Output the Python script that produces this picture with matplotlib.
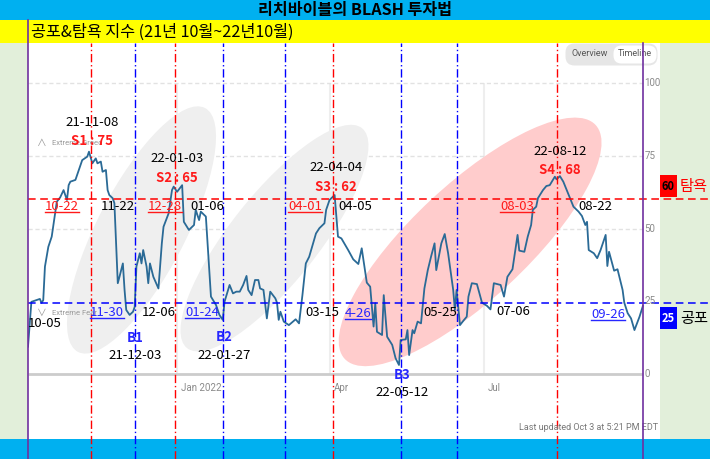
import matplotlib
matplotlib.use('Agg')
import matplotlib.pyplot as plt
import matplotlib.dates as mdates
import matplotlib.patches as mpatches
import matplotlib.transforms as mtransforms
from matplotlib.lines import Line2D
import pandas as pd

plt.rcParams['font.family'] = ['Noto Sans CJK KR', 'DejaVu Sans']
SMALL = ['Liberation Sans Narrow', 'Roboto', 'DejaVu Sans']

START = pd.Timestamp('2021-10-05')

# CNN fear & greed index (x = days since 2021-10-05)
day = [0, 2, 5, 7, 8, 9, 10, 12, 14, 16, 17, 19, 21, 23, 24, 25, 28, 30, 32, 35,
       36, 38, 40, 41, 43, 44, 46, 47, 48, 50, 51, 53, 54, 56, 57, 58, 60, 62, 63, 64,
       66, 67, 68, 70, 71, 72, 74, 77, 79, 80, 83, 85, 86, 88, 91, 92, 95, 98, 99, 101,
       102, 105, 106, 108, 111, 113, 115, 116, 119, 121, 123, 125, 127, 129, 130, 132,
       134, 136, 137, 139, 141, 143, 146, 147, 148, 149, 151, 154, 158, 160, 162, 164,
       166, 168, 170, 172, 175, 176, 178, 181, 183, 185, 189, 192, 195, 197, 200, 202,
       204, 205, 206, 209, 210, 212, 215, 217, 219, 220, 223, 224, 225, 227, 228, 230,
       232, 234, 236, 238, 240, 241, 244, 246, 248, 251, 252, 253, 255, 257, 259, 260,
       262, 265, 268, 271, 273, 275, 279, 281, 283, 286, 289, 290, 293, 295, 297, 298,
       300, 301, 304, 306, 308, 311, 312, 314, 316, 318, 320, 322, 325, 327, 329, 330,
       331, 334, 336, 338, 341, 342, 343, 346, 348, 351, 352, 354, 356, 358, 361, 363]
fg = [9.4, 24.8, 25.4, 25.8, 24.4, 25.4, 36.9, 43.7, 47.2, 55.3,
      59.2, 60.7, 63.2, 59.8, 64.9, 66.1, 66.7, 70.1, 73.5, 74.7,
      76.4, 72.4, 74.1, 72.4, 73.0, 69.5, 70.1, 63.2, 61.5, 60.4,
      58.7, 31.2, 33.4, 38.0, 28.9, 22.0, 20.3, 21.4, 23.1, 36.9,
      41.5, 38.0, 42.6, 36.9, 31.2, 38.0, 33.4, 29.4, 44.9, 50.6,
      55.2, 63.2, 64.4, 62.6, 64.9, 52.3, 49.5, 51.2, 56.4, 52.9,
      55.8, 54.1, 44.9, 26.6, 23.7, 20.3, 18.6, 24.8, 30.6, 27.7,
      28.3, 28.3, 30.6, 33.7, 28.9, 27.1, 32.3, 32.3, 29.4, 28.9,
      19.1, 28.3, 26.0, 24.5, 18.6, 21.4, 18.0, 16.8, 18.8, 17.4,
      27.1, 38.0, 40.3, 44.3, 48.3, 50.1, 51.8, 56.4, 59.8, 61.5,
      47.2, 46.6, 42.6, 39.4, 37.8, 43.2, 31.4, 30.0, 16.3, 24.3,
      14.5, 13.4, 27.1, 12.8, 10.0, 5.4, 3.1, 11.7, 11.9, 15.1,
      6.5, 15.1, 14.0, 18.0, 17.4, 29.4, 35.7, 40.5, 44.9, 35.7,
      44.9, 48.1, 41.5, 28.9, 22.0, 28.9, 16.8, 18.3, 19.7, 26.6,
      31.2, 30.9, 24.5, 23.4, 22.2, 31.2, 30.6, 26.6, 33.4, 36.0,
      47.8, 42.4, 42.0, 47.2, 51.2, 56.4, 57.5, 60.4, 63.2, 64.6,
      64.9, 67.8, 66.9, 68.0, 66.1, 63.2, 60.4, 57.5, 55.8, 54.3,
      51.2, 52.3, 42.6, 41.5, 39.8, 42.6, 47.8, 37.1, 42.0, 35.5,
      36.0, 28.9, 24.5, 20.9, 19.1, 15.1, 19.7, 23.4]

greed_line = 60
fear_line = 24.4
sell_days = [37, 87, 180, 312]
buy_days = [63, 115, 152, 220, 253]

top_dates = ['21-11-08', '22-01-03', '22-04-04', '22-08-12']
top_tags = ['S1 : 75', 'S2 : 65', 'S3 : 62', 'S4 : 68']
top_x = [38, 88, 182, 314]
top_y = [86.6, 73.9, 70.8, 76.6]

bottom_tags = ['B1', 'B2', 'B3']
bottom_dates = ['21-12-03', '22-01-27', '22-05-12']
bottom_x = [63, 116, 221]
bottom_y = [12.4, 12.7, -0.3]

greed_in = ['10-22', '12-28', '04-01', '08-03']
greed_in_x = [20, 81, 163.5, 288.7]
greed_out = ['11-22', '01-06', '04-05', '08-22']
greed_out_x = [53, 106, 193, 334.7]
fear_in = ['11-30', '01-24', '4-26', '09-26']
fear_in_x = [46.6, 102.7, 194.8, 342.4]
fear_in_y = [21, 21, 20.9, 20.4]
fear_out = ['10-05', '12-06', '03-15', '05-25', '07-06']
fear_out_x = [10, 77.3, 173.6, 243.2, 286.3]
fear_out_y = [17.5, 21, 21, 21.3, 21.5]

month_ticks = ['2022-01-01', '2022-04-01', '2022-07-01']
month_labels = ['Jan 2022', 'Apr', 'Jul']
y_ticks = [0, 25, 50, 75, 100]

# highlighted zones: centre (day, value), size in px, angle
zone_x = [67, 145.5, 261]
zone_y = [49.5, 46.7, 45.4]
zone_w = [275, 281, 343]
zone_h = [88, 88, 115]
zone_ang = [62.5, 51.5, 43]
zone_col = ['#efefef', '#efefef', '#ffcccc']

W, H = 710, 459
fig = plt.figure(figsize=(W / 100, H / 100), dpi=100, facecolor='white')
PX = mtransforms.Affine2D().scale(1, -1).translate(0, H)   # top-left pixel coords


def box(x0, y0, x1, y1, color, z=-2):
    fig.add_artist(mpatches.Rectangle((x0, y1), x1 - x0, y0 - y1, transform=PX,
                                      facecolor=color, edgecolor='none', zorder=z))


BLUE_BAND = '#00b0f0'
GREEN = '#e2efda'
box(0, 0, W, 20, BLUE_BAND)
box(0, 20, W, 43, '#ffff00')
box(0, 43, 28, 439, GREEN)
box(660, 43, W, 439, GREEN)
box(0, 439, W, H, BLUE_BAND)

fig.text(355, 10, '리치바이블의 BLASH 투자법', transform=PX, ha='center', va='center',
         fontsize=11.6, fontweight='bold', color='black')
fig.text(31, 32, '공포&탐욕 지수 (21년 10월~22년10월)', transform=PX, ha='left',
         va='center', fontsize=11.7, color='black')

ax = fig.add_axes([28 / W, 0, (W - 28) / W, (H - 43) / H])
ax.patch.set_alpha(0)
for s in ax.spines.values():
    s.set_visible(False)
ax.set_xticks([])
ax.set_yticks([])


def d(n):
    return START + pd.Timedelta(days=n)


ax.set_xlim(d(0), d((W - 28) / 1.694))
ax.set_ylim(-29.21, 113.75)
end = d(day[-1])

# grid of the original chart
for y in [50, 75, 100]:
    ax.hlines(y, d(0), end, color='#e2e2e2', lw=1, ls=(0, (3, 2)), zorder=0.5)
ax.hlines(0, d(0), end, color='#cccccc', lw=2, zorder=0.5)
for m in month_ticks:
    ax.vlines(pd.Timestamp(m), 0, 100, color='#eeeeee', lw=1.5, zorder=0.4)

for cx, cy, w, h, a, c in zip(zone_x, zone_y, zone_w, zone_h, zone_ang, zone_col):
    off = mtransforms.ScaledTranslation(mdates.date2num(d(cx)), cy, ax.transData)
    ax.add_patch(mpatches.Ellipse((0, 0), w, h, angle=a, transform=off,
                                  facecolor=c, edgecolor='none', zorder=0.6))

dates = [d(n) for n in day]
ax.plot(dates, fg, color='#2a6a96', lw=1.3, zorder=2)

ax.axhline(greed_line, color='#ff0000', lw=1.1, ls=(0, (5, 3)), zorder=3)
ax.axhline(fear_line, color='#0000ff', lw=1.1, ls=(0, (5, 3)), zorder=3)
for n in sell_days:
    ax.axvline(d(n), color='#ff0000', lw=1, ls=(0, (6, 2, 1, 2)), zorder=3)
for n in buy_days:
    ax.axvline(d(n), color='#0000ff', lw=1, ls=(0, (6, 2, 1, 2)), zorder=3)

# screenshot furniture
for m, lab in zip(month_ticks, month_labels):
    ax.text(pd.Timestamp(m), -4.8, lab, ha='left', va='center', fontsize=7,
            color='#8a8a8a', family=SMALL,
            transform=mtransforms.offset_copy(ax.transData, fig, x=4, units='dots'))
for y in y_ticks:
    ax.text(d(364), y, str(y), ha='left', va='center', fontsize=7, color='#8a8a8a',
            family=SMALL)
ax.text(d(5.5), 79.3, '∧', ha='left', va='center', fontsize=7, color='#9a9a9a')
ax.text(d(14), 79.3, 'Extreme Greed', ha='left', va='center', fontsize=5.5,
        color='#9a9a9a', family=SMALL)
ax.text(d(5.5), 21, '∨', ha='left', va='center', fontsize=7, color='#9a9a9a')
ax.text(d(14), 21, 'Extreme Fear', ha='left', va='center', fontsize=5.5,
        color='#9a9a9a', family=SMALL)
fig.text(658, 428, 'Last updated Oct 3 at 5:21 PM EDT', transform=PX, ha='right',
         va='center', fontsize=6.5, color='#777777', family=SMALL)

fig.add_artist(mpatches.FancyBboxPatch((567, 45), 89, 19, transform=PX,
                                       boxstyle='round,pad=1.5,rounding_size=9',
                                       facecolor='#e6e6e6', edgecolor='none', zorder=4))
fig.add_artist(mpatches.FancyBboxPatch((614, 46), 42, 17, transform=PX,
                                       boxstyle='round,pad=0.5,rounding_size=8',
                                       facecolor='white', edgecolor='none', zorder=4))
fig.text(590, 54, 'Overview', transform=PX, ha='center', va='center', fontsize=6.5,
         color='#555555', family=SMALL, zorder=5)
fig.text(635, 54, 'Timeline', transform=PX, ha='center', va='center', fontsize=6.5,
         color='#555555', family=SMALL, zorder=5)

# annotations
FS = 9.5
RED, BLUE = '#ff1a1a', '#2727ff'
under = []
for lab, x, y in zip(top_dates, top_x, top_y):
    ax.text(d(x), y, lab, ha='center', va='center', fontsize=FS, color='black', zorder=6)
for lab, x, y in zip(top_tags, top_x, top_y):
    ax.text(d(x), y - 6.5, lab, ha='center', va='center', fontsize=FS,
            fontweight='bold', color=RED, zorder=6)
for lab, dt, x, y in zip(bottom_tags, bottom_dates, bottom_x, bottom_y):
    ax.text(d(x), y, lab, ha='center', va='center', fontsize=FS, fontweight='bold',
            color=BLUE, zorder=6)
    ax.text(d(x), y - 6.2, dt, ha='center', va='center', fontsize=FS, color='black',
            zorder=6)
for lab, x in zip(greed_in, greed_in_x):
    under.append(ax.text(d(x), 57.4, lab, ha='center', va='center', fontsize=FS,
                         color=RED, zorder=6))
for lab, x in zip(greed_out, greed_out_x):
    ax.text(d(x), 57.4, lab, ha='center', va='center', fontsize=FS, color='black',
            zorder=6)
for lab, x, y in zip(fear_in, fear_in_x, fear_in_y):
    under.append(ax.text(d(x), y, lab, ha='center', va='center', fontsize=FS,
                         color=BLUE, zorder=6))
for lab, x, y in zip(fear_out, fear_out_x, fear_out_y):
    ax.text(d(x), y, lab, ha='center', va='center', fontsize=FS, color='black',
            zorder=6)

# level boxes on the right
box(660, 175, 677, 197, '#ff0000', z=5)
fig.text(668.5, 186, str(greed_line), transform=PX, ha='center', va='center',
         fontsize=8, fontweight='bold', color='black', zorder=6)
fig.text(680, 186, '탐욕', transform=PX, ha='left', va='center', fontsize=11,
         color='#ff0000', zorder=6)
box(660, 307, 677, 329, '#0000ff', z=5)
fig.text(668.5, 318, '25', transform=PX, ha='center', va='center',
         fontsize=8, fontweight='bold', color='white', zorder=6)
fig.text(680, 318, '공포', transform=PX, ha='left', va='center', fontsize=11,
         color='black', zorder=6)

# purple frame lines
for x0, y0 in [(28, 20), (643, 43)]:
    fig.add_artist(Line2D([x0, x0], [y0, H], transform=PX, color='#7030a0', lw=1.2,
                          zorder=7))

fig.canvas.draw()
for t in under:
    bb = t.get_window_extent()
    fig.add_artist(Line2D([bb.x0, bb.x1], [bb.y0 + 1, bb.y0 + 1],
                          transform=mtransforms.IdentityTransform(),
                          color=t.get_color(), lw=1, zorder=7))

fig.savefig('out.png', dpi=100, facecolor='white')
